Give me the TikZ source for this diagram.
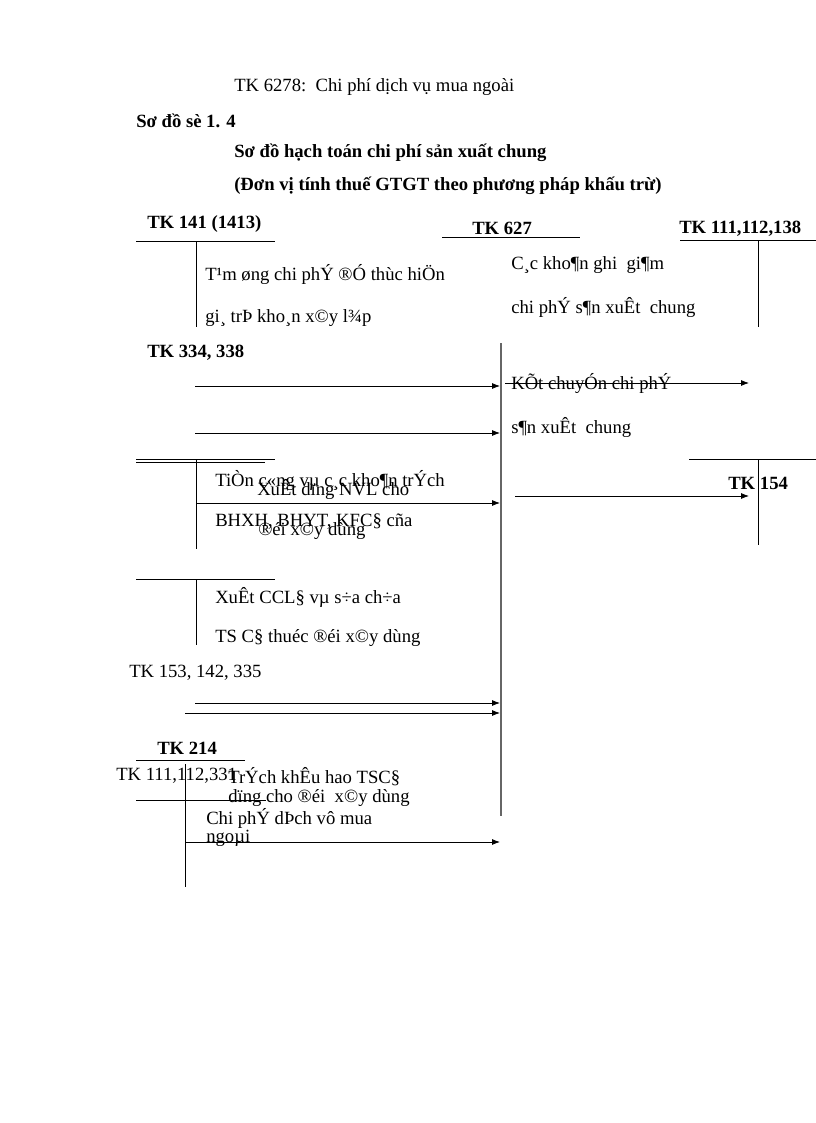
\documentclass[tikz,border=0pt]{standalone}
\usepackage{fontspec}
\setmainfont{Liberation Serif}
\usetikzlibrary{arrows.meta}
\begin{document}
\begin{tikzpicture}[x=0.75pt,y=-0.75pt,
  txt/.style={anchor=west,inner sep=0pt,font=\fontsize{14}{16}\selectfont},
  bld/.style={anchor=west,inner sep=0pt,font=\fontsize{14}{16}\selectfont\bfseries},
  ln/.style={line width=0.6pt,black},
  main/.style={line width=1.3pt,black!60},
  arr/.style={line width=0.6pt,black,-{Latex[length=6pt,width=4.5pt]}}]
\useasboundingbox (0,0) rectangle (816,1123);
% header
\node[txt] (h1) at (234,87) {TK 6278:\ \ Chi phí dịch vụ mua ngoài};
\node[bld] (h2) at (136,121) {Sơ đồ sè 1. 4};
\node[bld] (h3) at (234,153) {Sơ đồ hạch toán chi phí sản xuất chung};
\node[bld] (h4) at (234,186) {(Đơn vị tính thuế GTGT theo phương pháp khấu trừ)};
% TK 141
\node[bld] (t141) at (147,224) {TK 141 (1413)};
\coordinate (a1) at (136,241); \coordinate (a2) at (275,241);
\coordinate (a3) at (196,241); \coordinate (a4) at (196,327);
\draw[ln] (a1) -- (a2); \draw[ln] (a3) -- (a4);
\node[txt] (l1) at (205,275) {T¹m øng chi phÝ ®Ó thùc hiÖn};
\node[txt] (l2) at (205,318) {gi¸ trÞ kho¸n x©y l¾p};
% TK 627
\node[bld] (t627) at (472,228) {TK 627};
\coordinate (b1) at (442,237); \coordinate (b2) at (580,237);
\draw[ln] (b1) -- (b2);
\coordinate (m1) at (501,343); \coordinate (m2) at (501,816);
\draw[main] (m1) -- (m2);
\node[txt] (r1) at (511,265) {C¸c kho¶n ghi\ \ gi¶m};
\node[txt] (r2) at (511,307) {chi phÝ s¶n xuÊt\ \ chung};
% TK 111,112,138
\node[bld] (t111) at (679,229) {TK 111,112,138};
\coordinate (c1) at (680,240); \coordinate (c2) at (816,240);
\coordinate (c3) at (758,240); \coordinate (c4) at (758,327);
\draw[ln] (c1) -- (c2); \draw[ln] (c3) -- (c4);
% TK 334,338
\node[bld] (t334) at (147,353) {TK 334, 338};
\coordinate (d1) at (195,386); \coordinate (d2) at (500,386);
\coordinate (d3) at (195,433); \coordinate (d4) at (500,433);
\draw[arr] (d1) -- (d2); \draw[arr] (d3) -- (d4);
\node[txt] (r3) at (511,384) {KÕt chuyÓn chi phÝ};
\node[txt] (r4) at (511,427) {s¶n xuÊt\ \ chung};
\coordinate (e1) at (505,383); \coordinate (e2) at (749,383);
\draw[arr] (e1) -- (e2);
% TK 154
\coordinate (f1) at (689,459); \coordinate (f2) at (816,459);
\coordinate (f3) at (758,459); \coordinate (f4) at (758,545);
\draw[ln] (f1) -- (f2); \draw[ln] (f3) -- (f4);
\node[bld] (t154) at (728,483) {TK 154};
\coordinate (e3) at (515,496); \coordinate (e4) at (749,496);
\draw[arr] (e3) -- (e4);
% T at 459
\coordinate (g1) at (136,459); \coordinate (g2) at (275,459);
\coordinate (g5) at (136,462); \coordinate (g6) at (265,462);
\coordinate (g3) at (196,459); \coordinate (g4) at (196,549);
\draw[ln] (g1) -- (g2); \draw[ln] (g5) -- (g6); \draw[ln] (g3) -- (g4);
\node[txt] (l3) at (215,480) {TiÒn c«ng vµ c¸c kho¶n trÝch};
\node[txt] (l4) at (215,522) {BHXH, BHYT, KFC§ cña};
\node[txt] (l5) at (257,489) {XuÊt dïng NVL cho};
\node[txt] (l6) at (258,531) {®éi x©y dùng};
\coordinate (g7) at (196,503); \coordinate (g8) at (500,503);
\draw[arr] (g7) -- (g8);
% T at 579
\coordinate (k1) at (136,579); \coordinate (k2) at (275,579);
\coordinate (k3) at (196,579); \coordinate (k4) at (196,645);
\draw[ln] (k1) -- (k2); \draw[ln] (k3) -- (k4);
\node[txt] (l7) at (215,597) {XuÊt CCL§ vµ s÷a ch÷a};
\node[txt] (l8) at (215,638) {TS C§ thuéc ®éi x©y dùng};
% TK 153
\node[txt] (t153) at (129,673) {TK 153, 142, 335};
\coordinate (n1) at (195,703); \coordinate (n2) at (500,703);
\coordinate (n3) at (185,713); \coordinate (n4) at (500,713);
\draw[arr] (n1) -- (n2); \draw[arr] (n3) -- (n4);
% TK 214
\node[bld] (t214) at (157,748) {TK 214};
\coordinate (p1) at (136,760); \coordinate (p2) at (245,760);
\draw[ln] (p1) -- (p2);
\node[txt] (t1112) at (116,776) {TK 111,112,331};
\coordinate (p3) at (185,764); \coordinate (p4) at (185,887);
\draw[ln] (p3) -- (p4);
\coordinate (p5) at (136,800); \coordinate (p6) at (266,800);
\draw[ln] (p5) -- (p6);
\node[txt] (l9) at (228,777) {TrÝch khÊu hao TSC§};
\node[txt] (l10) at (228,798) {dïng cho ®éi\ \ x©y dùng};
\node[txt] (l11) at (206,818) {Chi phÝ dÞch vô mua};
\node[txt] (l12) at (206,838) {ngoµi};
\coordinate (p7) at (185,842); \coordinate (p8) at (500,842);
\draw[arr] (p7) -- (p8);
\end{tikzpicture}
\end{document}
